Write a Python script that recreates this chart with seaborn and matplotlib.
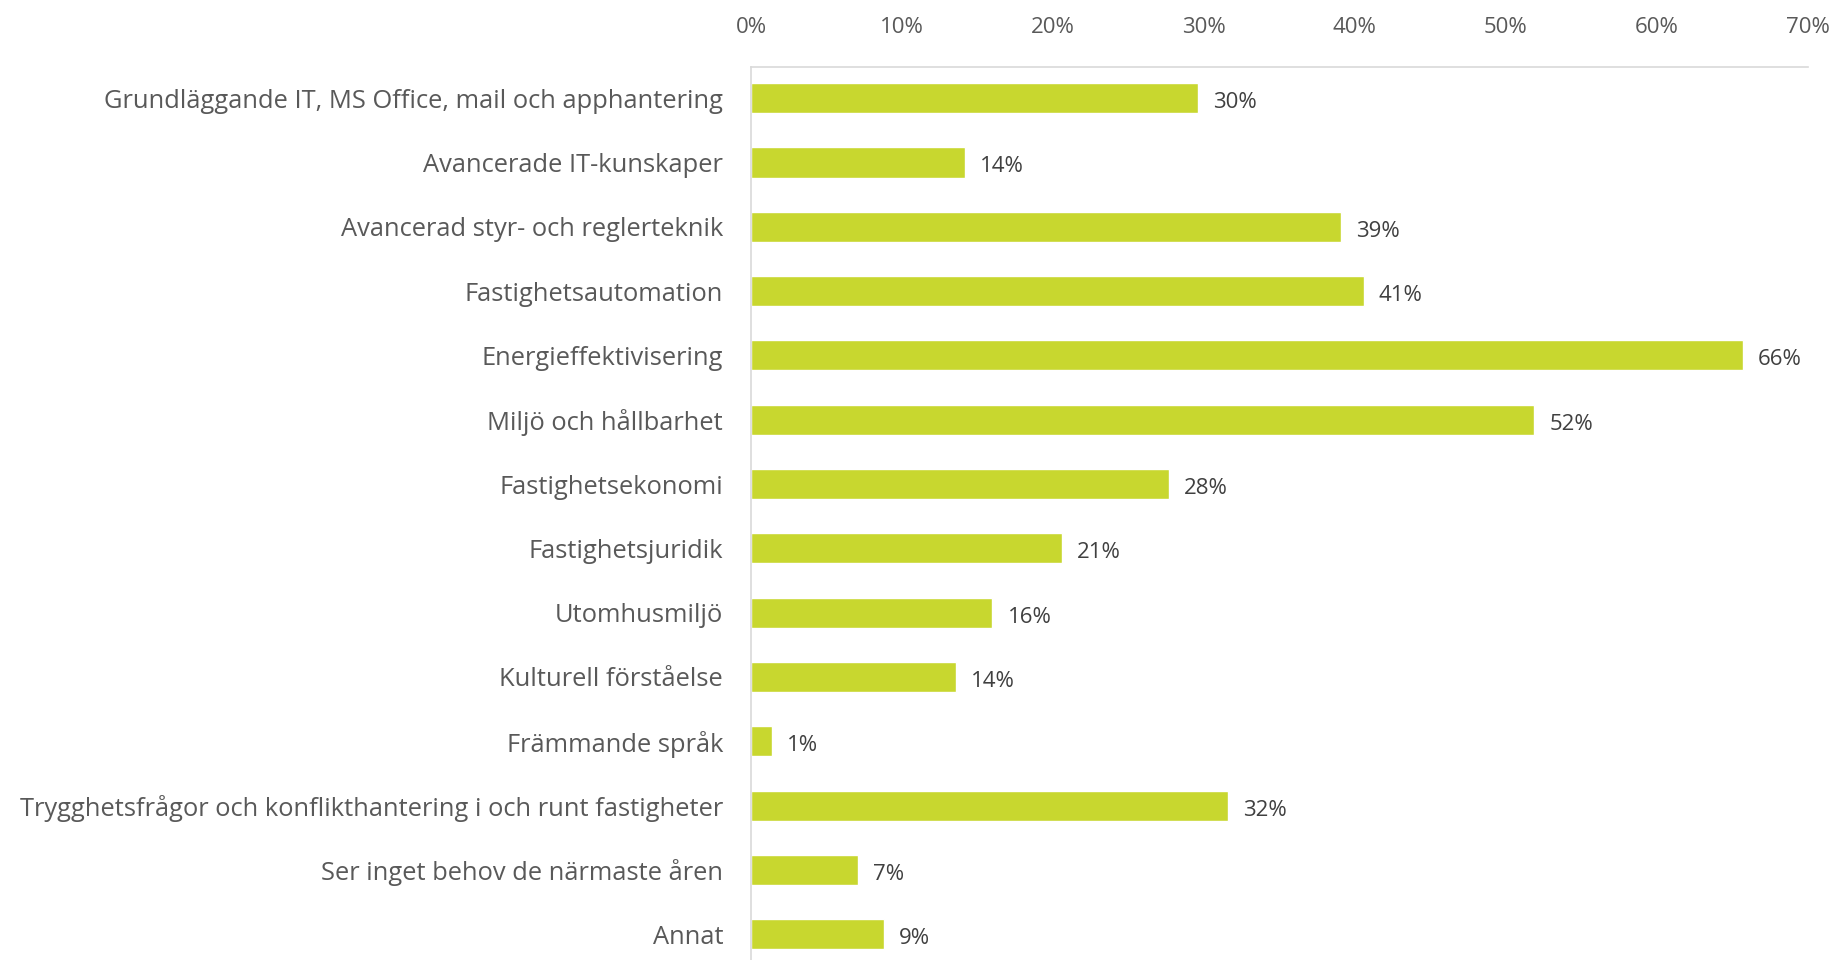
import matplotlib
matplotlib.use("Agg")
import matplotlib.pyplot as plt
import seaborn as sns
import pandas as pd

# Data
categories = [
    "Grundläggande IT, MS Office, mail och apphantering",
    "Avancerade IT-kunskaper",
    "Avancerad styr- och reglerteknik",
    "Fastighetsautomation",
    "Energieffektivisering",
    "Miljö och hållbarhet",
    "Fastighetsekonomi",
    "Fastighetsjuridik",
    "Utomhusmiljö",
    "Kulturell förståelse",
    "Främmande språk",
    "Trygghetsfrågor och konflikthantering i och runt fastigheter",
    "Ser inget behov de närmaste åren",
    "Annat",
]
values = [29.6, 14.2, 39.1, 40.6, 65.7, 51.9, 27.7, 20.6, 16.0, 13.6, 1.4, 31.6, 7.1, 8.8]
x_ticks = [0, 10, 20, 30, 40, 50, 60, 70]

df = pd.DataFrame({"Kategori": categories, "Andel": values})

sns.set_theme(style="white")
plt.rcParams["font.family"] = ["Open Sans", "DejaVu Sans"]

fig = plt.figure(figsize=(18.37, 9.6), dpi=100)
ax = fig.add_axes([0.4088, 0.0, 0.984 - 0.4088, 0.930])

bar_color = "#C8D72F"
sns.barplot(data=df, x="Andel", y="Kategori", orient="h", color=bar_color,
            width=0.47, saturation=1, ax=ax)

# Value labels
for i, v in enumerate(values):
    ax.text(v + 1.0, i + 0.07, f"{round(v)}%", va="center", ha="left",
            fontsize=16, color="#404040")

ax.set_xlim(0, 70)
ax.set_ylim(13.4, -0.48)
ax.xaxis.tick_top()
ax.set_xticks(x_ticks)
ax.set_xticklabels([f"{t}%" for t in x_ticks], fontsize=16, color="#595959")
ax.tick_params(axis="x", length=0, pad=21)
ax.tick_params(axis="y", length=0, pad=20, labelsize=18.4, labelcolor="#595959")
ax.set_xlabel("")
ax.set_ylabel("")

for side in ["right", "bottom"]:
    ax.spines[side].set_visible(False)
for side in ["left", "top"]:
    ax.spines[side].set_color("#D9D9D9")
    ax.spines[side].set_linewidth(1.2)

fig.savefig("out.png", dpi=100)
